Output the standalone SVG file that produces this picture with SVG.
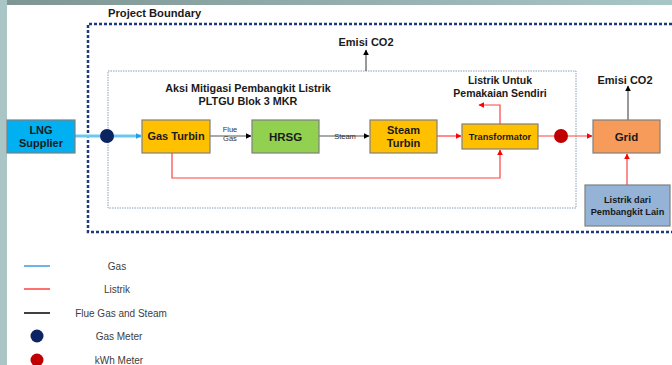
<svg xmlns="http://www.w3.org/2000/svg" width="672" height="365" viewBox="0 0 672 365">
<defs>
<linearGradient id="topbar" x1="0" y1="0" x2="1" y2="0">
<stop offset="0" stop-color="#7d9593"/>
<stop offset="1" stop-color="#a9c6c6"/>
</linearGradient>
<marker id="aBlk" viewBox="0 0 10 10" refX="9" refY="5" markerWidth="5" markerHeight="5" orient="auto"><path d="M0,0L10,5L0,10z" fill="#000"/></marker>
<marker id="aRed" viewBox="0 0 10 10" refX="9" refY="5" markerWidth="5" markerHeight="5" orient="auto"><path d="M0,0L10,5L0,10z" fill="#ff0000"/></marker>
<marker id="aBlue" viewBox="0 0 10 10" refX="9" refY="5" markerWidth="5" markerHeight="5" orient="auto"><path d="M0,0L10,5L0,10z" fill="#1e9ee6"/></marker>
</defs>
<style>
text{font-family:"Liberation Sans",Arial,sans-serif;}
.b{font-weight:bold;fill:#1a1a1a;}
.box{stroke:#7f7f7f;stroke-width:1.2;}
.red{fill:none;stroke:#ff4040;stroke-width:1.2;}
.blk{fill:none;stroke:#555;stroke-width:1.2;}
.leg{font-size:10px;fill:#404040;}
.sm{font-size:7.5px;fill:#333;}
</style>
<rect x="0" y="0" width="672" height="365" fill="#ffffff"/>
<rect x="0" y="0" width="672" height="5" fill="url(#topbar)"/>
<rect x="0" y="0" width="7" height="365" fill="#a9c5c5"/>

<g id="boundary">
<path d="M672,24H88V232H672" fill="none" stroke="#1f3a7a" stroke-width="2.5" stroke-dasharray="3,2"/>
<text x="108" y="17" class="b" font-size="11.2">Project Boundary</text>
</g>
<g id="inner-box">
<rect x="108" y="71" width="468" height="137" fill="none" stroke="#8c9cb8" stroke-width="1" stroke-dasharray="1.5,1"/>
<text x="248" y="92" class="b" font-size="10.8" text-anchor="middle">Aksi Mitigasi Pembangkit Listrik</text>
<text x="248" y="105" class="b" font-size="10.8" text-anchor="middle">PLTGU Blok 3 MKR</text>
</g>

<g id="connectors">
<line x1="75" y1="136" x2="141" y2="136" stroke="#9fdcf6" stroke-width="3.5"/>
<line x1="75" y1="136" x2="141" y2="136" stroke="#35b4ee" stroke-width="1.2" marker-end="url(#aBlue)"/>
<line x1="210" y1="136" x2="251" y2="136" class="blk" marker-end="url(#aBlk)"/>
<line x1="319" y1="136" x2="369" y2="136" class="blk" marker-end="url(#aBlk)"/>
<line x1="437" y1="136" x2="461" y2="136" class="red" marker-end="url(#aRed)"/>
<path d="M500,124V105H479" class="red" marker-end="url(#aRed)"/>
<path d="M172,153V178H500V150" class="red" marker-end="url(#aRed)"/>
<line x1="538" y1="136" x2="592" y2="136" class="red" marker-end="url(#aRed)"/>
<line x1="627" y1="185" x2="627" y2="154" class="red" marker-end="url(#aRed)"/>
<line x1="628" y1="120" x2="628" y2="86" class="blk" marker-end="url(#aBlk)"/>
<line x1="366" y1="71" x2="366" y2="50" class="blk" marker-end="url(#aBlk)"/>
<text x="230" y="132" class="sm" text-anchor="middle">Flue</text>
<text x="230" y="141" class="sm" text-anchor="middle">Gas</text>
<text x="345" y="138.5" class="sm" text-anchor="middle">Steam</text>
</g>

<g id="lng-supplier">
<rect x="7" y="120" width="68" height="33" fill="#00b0f0" class="box"/>
<text x="41" y="134" class="b" font-size="11" text-anchor="middle">LNG</text>
<text x="41" y="147" class="b" font-size="11" text-anchor="middle">Supplier</text>
</g>
<g id="gas-meter"><circle cx="107" cy="136" r="7" fill="#0c2461"/></g>
<g id="gas-turbin">
<rect x="142" y="120" width="68" height="33" fill="#ffc000" class="box"/>
<text x="176" y="140" class="b" font-size="11" text-anchor="middle">Gas Turbin</text>
</g>
<g id="hrsg">
<rect x="252" y="120" width="67" height="33" fill="#92d050" class="box"/>
<text x="285.5" y="140.5" class="b" font-size="11.5" text-anchor="middle">HRSG</text>
</g>
<g id="steam-turbin">
<rect x="370" y="120" width="67" height="33" fill="#ffc000" class="box"/>
<text x="403.5" y="134" class="b" font-size="11" text-anchor="middle">Steam</text>
<text x="403.5" y="147" class="b" font-size="11" text-anchor="middle">Turbin</text>
</g>
<g id="transformator">
<rect x="462" y="124" width="76" height="25" fill="#ffc000" class="box"/>
<text x="500" y="139.5" class="b" font-size="9.2" text-anchor="middle">Transformator</text>
</g>
<g id="kwh-meter"><circle cx="561" cy="136" r="7" fill="#c00000"/></g>
<g id="grid">
<rect x="593" y="120" width="67" height="33" fill="#f79b5a" class="box"/>
<text x="626.5" y="140.5" class="b" font-size="11.5" text-anchor="middle">Grid</text>
</g>
<g id="pembangkit-lain">
<rect x="585" y="185" width="85" height="41" fill="#95b3d7" class="box"/>
<text x="627.5" y="203" class="b" font-size="9.2" text-anchor="middle">Listrik dari</text>
<text x="627.5" y="215" class="b" font-size="9.2" text-anchor="middle">Pembangkit Lain</text>
</g>
<g id="labels">
<text x="500" y="84" class="b" font-size="10.5" text-anchor="middle">Listrik Untuk</text>
<text x="500" y="97" class="b" font-size="10.5" text-anchor="middle">Pemakaian Sendiri</text>
<text x="366" y="46" class="b" font-size="11" text-anchor="middle">Emisi CO2</text>
<text x="625" y="84" class="b" font-size="11" text-anchor="middle">Emisi CO2</text>
</g>

<g id="legend">
<line x1="24" y1="266" x2="50" y2="266" stroke="#3a9be0" stroke-width="1.5"/>
<line x1="24" y1="289" x2="50" y2="289" stroke="#ff4040" stroke-width="1.5"/>
<line x1="24" y1="313" x2="50" y2="313" stroke="#000" stroke-width="1.5"/>
<circle cx="37" cy="336" r="6.5" fill="#0c2461"/>
<circle cx="37" cy="360" r="6.5" fill="#c00000"/>
<text x="117" y="270" class="leg" text-anchor="middle">Gas</text>
<text x="117" y="293" class="leg" text-anchor="middle">Listrik</text>
<text x="121" y="317" class="leg" text-anchor="middle">Flue Gas and Steam</text>
<text x="119" y="340" class="leg" text-anchor="middle">Gas Meter</text>
<text x="119" y="364" class="leg" text-anchor="middle">kWh Meter</text>
</g>
</svg>
